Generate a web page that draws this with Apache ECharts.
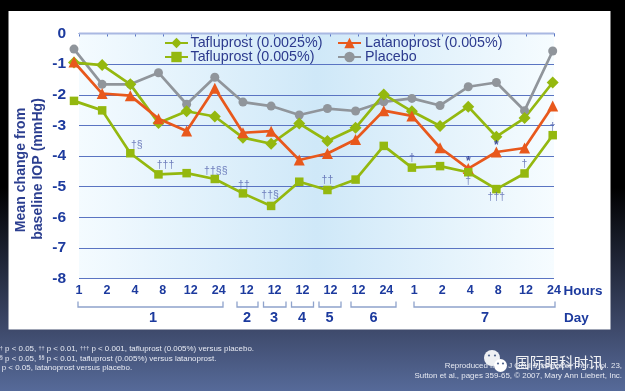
<!DOCTYPE html>
<html><head><meta charset="utf-8">
<style>html,body{margin:0;padding:0;background:#000}#c{width:625px;height:391px}</style>
<script src="https://cdn.jsdelivr.net/npm/echarts@6/dist/echarts.min.js"></script>
</head><body><div id="c"></div>
<script>
const hours = ['1','2','4','8','12','24','12','12','12','12','12','24','1','2','4','8','12','24'];
const yTicks = [0,-1,-2,-3,-4,-5,-6,-7,-8];
const taf0025 = [-0.95,-1.03,-1.66,-2.92,-2.54,-2.71,-3.40,-3.60,-2.94,-3.51,-3.08,-1.99,-2.54,-3.02,-2.39,-3.37,-2.76,-1.60];
const taf005 = [-2.20,-2.51,-3.91,-4.60,-4.56,-4.75,-5.22,-5.63,-4.84,-5.11,-4.77,-3.67,-4.38,-4.33,-4.53,-5.08,-4.57,-3.32];
const latano = [-0.93,-1.96,-2.03,-2.78,-3.18,-1.79,-3.24,-3.19,-4.13,-3.92,-3.46,-2.52,-2.69,-3.73,-4.41,-3.87,-3.74,-2.37];
const placebo = [-0.51,-1.66,-1.66,-1.28,-2.31,-1.43,-2.24,-2.37,-2.66,-2.45,-2.53,-2.23,-2.12,-2.35,-1.74,-1.60,-2.52,-0.57];
const daggerIdx = [2,3,5,6,7,9,12,14,15,16,17];
const daggerText = ['†§','†††','††§§','††','††§','††','†','†','†††','†','†'];
const starIdx = [14,15];
const footnotes = ['† p < 0.05, †† p < 0.01, ††† p < 0.001, tafluprost (0.005%) versus placebo.',
  '§ p < 0.05, §§ p < 0.01, tafluprost (0.005%) versus latanoprost.',
  '* p < 0.05, latanoprost versus placebo.'];
const days = ['1','2','3','4','5','6','7'];

const daggerOffsets = [[6.5,-8],[7,-9],[1,-8],[1,-8],[-1,-11],[0,-10],[0,-10],[0,9],[0,8],[0,-9.5],[0,-8]];
const starOffsets = [[0,-7],[0,-6]];
const bracketX = [[78,223],[237,258],[263.5,286],[291.5,313.5],[319,341],[351,396],[414,555]];
const dayX = [153,247,274,302,329.5,373.5,485];
const navy = '#1c3a9e', green = '#94b80f', orange = '#e8581c', gray = '#90959b', inkLegend='#2c3a8e';
const FONT = '"Liberation Sans", Arial, sans-serif';

const g = [];
g.push({type:'rect',silent:true,z:-10,shape:{x:8.5,y:11,width:602,height:318.5},style:{fill:'#fff'}});
g.push({type:'rect',silent:true,z:1,shape:{x:79,y:32.5,width:475,height:2},style:{fill:'#a9b8e2'}});
bracketX.forEach((b,i)=>{
  g.push({type:'polyline',silent:true,shape:{points:[[b[0],301.5],[b[0],307],[b[1],307],[b[1],301.5]]},style:{stroke:'#8fa3cc',fill:null,lineWidth:1.3}});
  g.push({type:'text',silent:true,style:{x:dayX[i],y:317.5,text:days[i],fill:navy,font:'bold 14.5px '+FONT,align:'center',verticalAlign:'middle'}});
});
g.push({type:'text',silent:true,style:{x:563.5,y:291,text:'Hours',fill:navy,font:'bold 13.5px '+FONT,verticalAlign:'middle'}});
g.push({type:'text',silent:true,style:{x:564,y:318,text:'Day',fill:navy,font:'bold 13.5px '+FONT,verticalAlign:'middle'}});
g.push({type:'text',silent:true,rotation:Math.PI/2,x:21.5,y:170,style:{text:'Mean change from',fill:'#2c3f90',font:'bold 14.1px '+FONT,align:'center',verticalAlign:'middle'}});
g.push({type:'text',silent:true,rotation:Math.PI/2,x:38.5,y:169,style:{text:'baseline IOP (mmHg)',fill:'#2c3f90',font:'bold 14.1px '+FONT,align:'center',verticalAlign:'middle'}});
const footX = [-0.2,-0.2,-2.6];
footnotes.forEach((t,i)=>g.push({type:'text',silent:true,style:{x:footX[i],y:349+i*9.65,
  text:'{n|'+t.replace(/[†§*]+/g,m=>'}{s|'+m+'}{n|')+'}',verticalAlign:'middle',
  rich:{n:{fill:'#e6e9f2',fontSize:7.95,fontFamily:FONT},s:{fill:'#e6e9f2',fontSize:5.5,fontFamily:FONT,verticalAlign:'top'}}}}));
g.push({type:'text',silent:true,style:{x:622,y:366,text:'Reproduced from J Ocul Pharmacol Ther., Vol. 23,',fill:'#e6e9f2',font:'7.95px '+FONT,align:'right',verticalAlign:'middle'}});
g.push({type:'text',silent:true,style:{x:622,y:376,text:'Sutton et al., pages 359-65, © 2007, Mary Ann Liebert, Inc.',fill:'#e6e9f2',font:'7.95px '+FONT,align:'right',verticalAlign:'middle'}});
g.push({type:'circle',silent:true,shape:{cx:492,cy:358,r:8},style:{fill:'#eef0f3'}});
g.push({type:'circle',silent:true,shape:{cx:500.5,cy:365.5,r:6.5},style:{fill:'#fff'}});
[[489,355.5],[495,355.5],[498,363.5],[503,363.5]].forEach(p=>g.push({type:'circle',silent:true,shape:{cx:p[0],cy:p[1],r:1.1},style:{fill:'#55688f'}}));
g.push({type:'text',silent:true,style:{x:515,y:362,text:'国际眼科时讯',fill:'#f0f1f4',font:'14.7px "Noto Sans CJK SC"',verticalAlign:'middle'}});

const lineSeries = (name,data,color,symbol,size)=>({name,type:'line',xAxisIndex:1,yAxisIndex:1,data,symbol,symbolSize:size,
  showSymbol:true,animation:false,lineStyle:{color,width:2.7},itemStyle:{color}});

const option = {
  animation:false,
  backgroundColor:{type:'linear',x:0,y:0,x2:0,y2:1,colorStops:[{offset:0,color:'#000'},{offset:0.48,color:'#000'},{offset:0.85,color:'#3f4b6d'},{offset:1,color:'#566a99'}]},
  textStyle:{fontFamily:FONT},
  graphic:{elements:g},
  grid:[
    {left:79,right:71,top:33.5,height:245,show:true,borderWidth:0,z:0,
      backgroundColor:{type:'linear',x:0,y:0,x2:1,y2:0,colorStops:[{offset:0,color:'#f4fbff'},{offset:0.5,color:'#cfe8f8'},{offset:1,color:'#f6fcff'}]}},
    {left:74,right:72.3,top:33.5,height:245}
  ],
  xAxis:[
    {type:'category',gridIndex:0,data:hours,boundaryGap:false,position:'bottom',
      axisLine:{lineStyle:{color:'#5b78c4',width:1.2}},axisTick:{show:true,length:3,alignWithLabel:true,interval:0,lineStyle:{color:'#5b78c4'}},
      axisLabel:{interval:0,color:navy,fontWeight:'bold',fontSize:12.5,margin:6,hideOverlap:false},splitLine:{show:false}},
    {type:'category',gridIndex:1,data:hours,boundaryGap:false,show:false}
  ],
  yAxis:[
    {type:'value',gridIndex:0,min:-8,max:0,interval:1,
      axisLine:{show:false},axisTick:{show:false},
      axisLabel:{color:navy,fontWeight:'bold',fontSize:15.5,margin:13,padding:[3,0,0,0],formatter:v=>v===0?'0':'-'+Math.abs(v)},
      splitLine:{show:true,lineStyle:{color:'#5a74c2',width:1.2}}},
    {type:'value',gridIndex:1,min:-8,max:0,interval:1,show:false,splitLine:{show:false}}
  ],
  legend:[
    {left:164,top:36,orient:'vertical',itemWidth:23,itemHeight:13,itemGap:0,padding:0,data:['Tafluprost (0.0025%)','Tafluprost (0.005%)'],
      textStyle:{color:inkLegend,fontSize:14.3,padding:[0,0,0,-2.5]},selectedMode:false},
    {left:337,top:36,orient:'vertical',itemWidth:23,itemHeight:13,itemGap:0,padding:0,data:['Latanoprost (0.005%)','Placebo'],
      textStyle:{color:inkLegend,fontSize:14.3,padding:[0,0,0,-1]},selectedMode:false}
  ],
  series:[
    lineSeries('Placebo',placebo,gray,'circle',9),
    lineSeries('Tafluprost (0.0025%)',taf0025,green,'diamond',12),
    lineSeries('Latanoprost (0.005%)',latano,orange,'triangle',11),
    lineSeries('Tafluprost (0.005%)',taf005,green,'rect',8.5),
    {type:'scatter',xAxisIndex:1,yAxisIndex:1,symbolSize:0,silent:true,z:5,
      data:daggerIdx.map((ix,i)=>({value:[ix,taf005[ix]],label:{show:true,position:'inside',offset:daggerOffsets[i],formatter:daggerText[i],color:'#5262ac',fontSize:10.5}}))},
    {type:'scatter',xAxisIndex:1,yAxisIndex:1,symbolSize:0,silent:true,z:5,
      data:starIdx.map((ix,i)=>({value:[ix,latano[ix]],label:{show:true,position:'inside',offset:starOffsets[i],formatter:'*',color:'#1c2a8c',fontSize:12,fontWeight:'bold'}}))}
  ]
};
const chart = echarts.init(document.getElementById('c'),null,{renderer:'canvas',width:625,height:391});
chart.setOption(option);
</script></body></html>
